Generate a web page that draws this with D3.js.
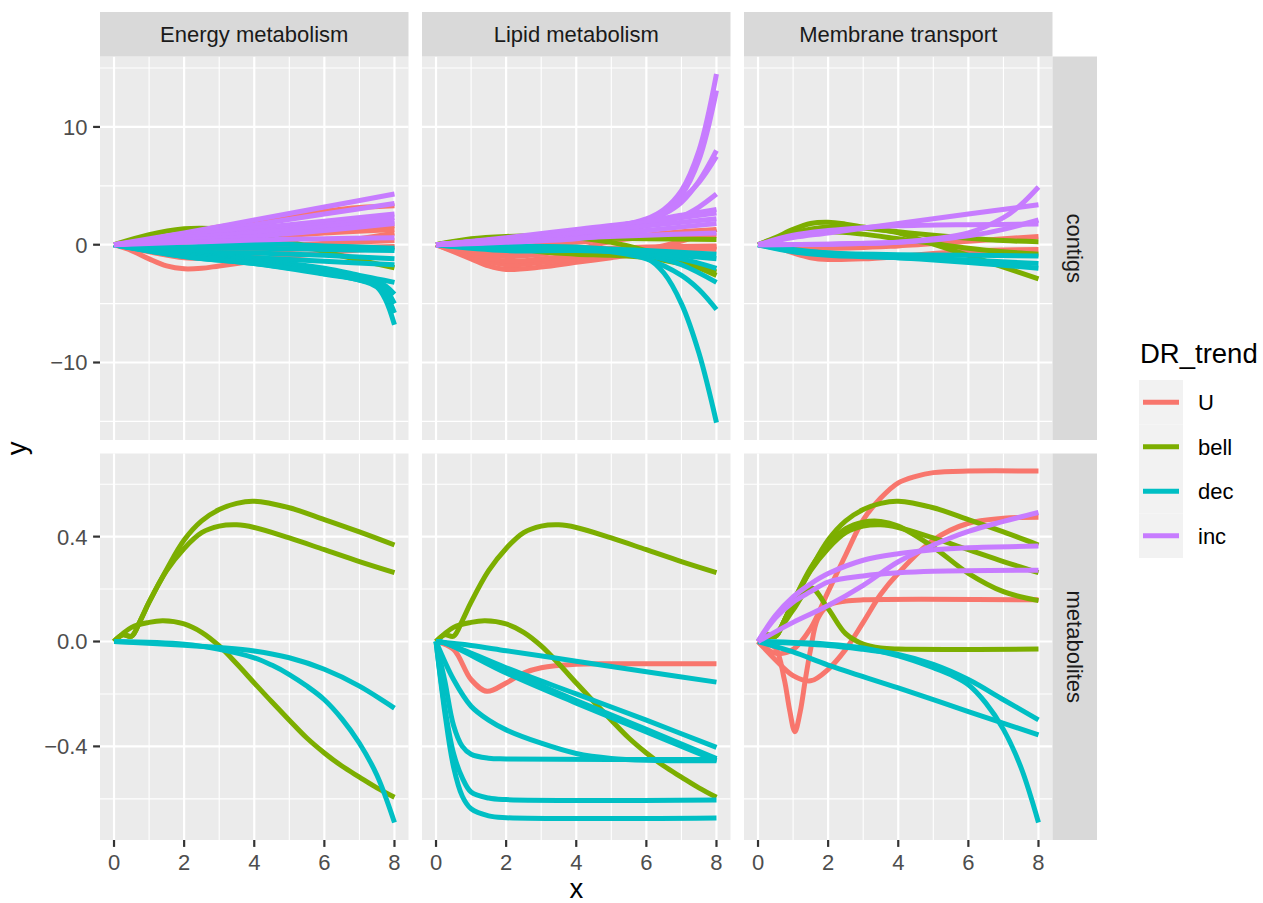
<!DOCTYPE html>
<html>
<head>
<meta charset="utf-8">
<script src="https://cdn.jsdelivr.net/npm/d3@7"></script>
<style>
  body { margin: 0; background: #fff; }
  svg { display: block; font-family: "Liberation Sans", Arial, Helvetica, sans-serif; }
</style>
</head>
<body>
<svg id="chart" width="1263" height="903"></svg>
<script>
// ======================
// Dades
// ======================
const pathways = ["Energy metabolism", "Lipid metabolism", "Membrane transport"];
const dataTypes = ["contigs", "metabolites"];
const trends = ["U", "bell", "dec", "inc"];
const trendColors = ["#F8766D", "#7CAE00", "#00BFC4", "#C77CFF"];
const xTicks = [0, 2, 4, 6, 8];
const yTicksContigs = [-10, 0, 10];
const yTicksMetabolites = [-0.4, 0, 0.4];

// each curve: [x, y] points
const energyContigs = [
  { trend: "U", pts: [[0,0],[0.5,-0.5],[1,-1.2],[1.5,-1.8],[2,-2.05],[2.5,-2.0],[3,-1.8],[4,-1.4],[5,-1.0],[6,-0.7],[7,-0.45],[8,-0.2]] },
  { trend: "U", pts: [[0,0],[1,-0.6],[2,-1.1],[3,-1.1],[4,-0.8],[5,-0.4],[6,0.1],[7,0.5],[8,1.0]] },
  { trend: "U", pts: [[0,0],[1,0.4],[2,1.0],[3,1.5],[4,2.0],[5,2.45],[6,2.85],[7,3.15],[8,3.3]] },
  { trend: "U", pts: [[0,0],[2,0.3],[4,0.7],[6,1.1],[8,1.6]] },
  { trend: "U", pts: [[0,0],[2,0.2],[4,0.6],[6,1.0],[8,1.3]] },
  { trend: "U", pts: [[0,0],[2,-0.3],[4,-0.2],[6,0.1],[8,0.35]] },
  { trend: "U", pts: [[0,0],[2,-0.6],[4,-0.5],[6,-0.3],[8,-0.15]] },
  { trend: "bell", pts: [[0,0],[1,0.85],[2,1.35],[2.5,1.4],[3,1.35],[4,0.95],[5,0.3],[6,-0.6],[7,-1.3],[8,-1.95]] },
  { trend: "dec", pts: [[0,0],[2,-0.3],[4,-0.3],[6,-0.4],[8,-0.5]] },
  { trend: "dec", pts: [[0,0],[2,-0.6],[4,-0.7],[6,-0.9],[8,-1.2]] },
  { trend: "dec", pts: [[0,0],[2,-0.8],[4,-1.1],[6,-1.4],[8,-1.7]] },
  { trend: "dec", pts: [[0,0],[2,-0.2],[4,0.1],[6,-0.1],[8,-0.3]] },
  { trend: "dec", pts: [[0,0],[2,-0.8],[4,-1.3],[6,-2.0],[7,-2.6],[7.5,-2.9],[8,-3.2]] },
  { trend: "dec", pts: [[0,0],[2,-0.9],[4,-1.4],[6,-2.2],[7,-2.8],[7.5,-3.1],[7.75,-3.5],[8,-4.2]] },
  { trend: "dec", pts: [[0,0],[2,-0.9],[4,-1.5],[6,-2.3],[7,-2.9],[7.5,-3.2],[7.75,-3.8],[8,-5.0]] },
  { trend: "dec", pts: [[0,0],[2,-1.0],[4,-1.6],[6,-2.4],[7,-3.0],[7.5,-3.4],[7.75,-4.2],[8,-5.8]] },
  { trend: "dec", pts: [[0,0],[2,-1.0],[4,-1.6],[6,-2.5],[7,-3.0],[7.5,-3.6],[7.75,-4.7],[8,-6.8]] },
  { trend: "inc", pts: [[0,0],[2,1.0],[4,2.1],[6,3.2],[8,4.3]] },
  { trend: "inc", pts: [[0,0],[2,0.8],[4,1.7],[6,2.6],[8,3.5]] },
  { trend: "inc", pts: [[0,0],[2,0.7],[4,1.4],[6,2.0],[8,2.6]] },
  { trend: "inc", pts: [[0,0],[2,0.5],[4,1.1],[6,1.7],[8,2.3]] },
  { trend: "inc", pts: [[0,0],[2,0.6],[4,1.0],[6,1.5],[8,2.0]] },
  { trend: "inc", pts: [[0,0],[2,0.4],[4,0.7],[6,1.2],[8,1.8]] },
  { trend: "inc", pts: [[0,0],[2,0.2],[4,0.4],[6,0.5],[8,0.6]] }
];

const lipidContigs = [
  { trend: "U", pts: [[0,0],[1,-1.2],[1.5,-1.8],[2,-2.1],[3,-1.9],[4,-1.5],[5,-1.1],[6,-0.7],[7,-0.4],[8,-0.2]] },
  { trend: "U", pts: [[0,0],[1,-1.0],[2,-1.7],[3,-1.5],[4,-1.2],[5,-0.8],[6,-0.4],[7,0.3],[8,1.3]] },
  { trend: "U", pts: [[0,0],[1,-0.8],[2,-1.4],[3,-1.2],[4,-0.9],[5,-0.6],[6,-0.3],[7,-0.3],[8,-0.4]] },
  { trend: "U", pts: [[0,0],[1,-0.6],[2,-1.0],[3,-0.8],[4,-0.4],[5,0.3],[6,0.8],[7,1.1],[8,1.3]] },
  { trend: "U", pts: [[0,0],[1,-0.4],[2,-0.6],[4,-0.4],[6,-0.2],[8,-0.1]] },
  { trend: "U", pts: [[0,0],[2,-0.2],[4,0.2],[6,0.6],[8,0.8]] },
  { trend: "bell", pts: [[0,0],[1,0.5],[2,0.7],[3,0.75],[4,0.6],[5,0.2],[6,-0.5],[7,-1.4],[8,-2.6]] },
  { trend: "bell", pts: [[0,0],[1,0.4],[2,0.6],[4,0.6],[6,0.5],[8,0.45]] },
  { trend: "bell", pts: [[0,0],[1,0.2],[2,-0.1],[3,-0.6],[4,-0.8],[5,-0.9],[6,-1.1],[7,-1.6],[8,-2.3]] },
  { trend: "dec", pts: [[0,0],[2,-0.1],[4,-0.2],[5,-0.45],[6,-1.1],[6.5,-2.4],[7,-5.0],[7.5,-9.2],[8,-15.1]] },
  { trend: "dec", pts: [[0,0],[2,-0.1],[4,-0.3],[5,-0.6],[6,-1.2],[7,-2.6],[7.5,-3.8],[8,-5.5]] },
  { trend: "dec", pts: [[0,0],[2,-0.2],[4,-0.3],[6,-0.9],[7,-1.7],[8,-3.2]] },
  { trend: "dec", pts: [[0,0],[2,-0.3],[4,-0.4],[6,-0.8],[7,-1.2],[8,-2.0]] },
  { trend: "dec", pts: [[0,0],[2,-0.5],[4,-0.5],[6,-0.7],[8,-1.2]] },
  { trend: "dec", pts: [[0,0],[2,-0.4],[4,-0.3],[6,-0.5],[8,-0.8]] },
  { trend: "inc", pts: [[0,0],[2,0.5],[4,1.1],[5,1.5],[6,2.2],[6.5,3.0],[7,4.6],[7.5,8.0],[8,14.5]] },
  { trend: "inc", pts: [[0,0],[2,0.5],[4,1.0],[5,1.4],[6,2.0],[6.5,2.8],[7,4.2],[7.5,7.2],[8,13.1]] },
  { trend: "inc", pts: [[0,0],[2,0.4],[4,1.0],[5,1.4],[6,2.0],[6.5,2.6],[7,3.6],[7.5,5.4],[8,8.0]] },
  { trend: "inc", pts: [[0,0],[2,0.5],[4,1.1],[5,1.5],[6,2.1],[6.5,2.7],[7,3.8],[7.5,5.3],[8,7.5]] },
  { trend: "inc", pts: [[0,0],[2,0.3],[4,0.8],[6,1.6],[7,2.4],[7.5,3.2],[8,4.3]] },
  { trend: "inc", pts: [[0,0],[2,0.6],[4,1.3],[6,2.0],[7,2.5],[8,3.0]] },
  { trend: "inc", pts: [[0,0],[2,0.5],[4,1.2],[6,1.9],[8,2.7]] },
  { trend: "inc", pts: [[0,0],[2,0.4],[4,1.0],[6,1.6],[8,2.2]] },
  { trend: "inc", pts: [[0,0],[2,0.3],[4,0.6],[6,0.8],[8,1.0]] },
  { trend: "inc", pts: [[0,0],[2,0.2],[4,0.5],[6,1.2],[8,1.8]] }
];

const membraneContigs = [
  { trend: "U", pts: [[0,0],[0.5,-0.2],[1,-0.7],[1.5,-1.1],[2,-1.25],[3,-1.2],[4,-1.0],[5,-0.75],[6,-0.55],[7,-0.45],[8,-0.4]] },
  { trend: "U", pts: [[0,0],[2,-0.3],[4,-0.1],[6,0.3],[8,0.7]] },
  { trend: "bell", pts: [[0,0],[0.5,0.6],[1,1.3],[1.5,1.8],[2,1.9],[2.5,1.75],[3,1.5],[4,1.0],[5,0.05],[6,-0.9],[7,-1.9],[8,-2.9]] },
  { trend: "bell", pts: [[0,0],[1,1.0],[2,1.5],[3,1.4],[4,1.1],[5,0.8],[6,0.55],[7,0.35],[8,0.25]] },
  { trend: "bell", pts: [[0,0],[1,0.8],[2,1.1],[3,0.9],[4,0.5],[5,0.1],[6,-0.3],[7,-0.6],[8,-0.8]] },
  { trend: "dec", pts: [[0,0],[1,-0.5],[2,-0.7],[4,-0.85],[6,-0.9],[8,-0.95]] },
  { trend: "dec", pts: [[0,0],[1,-0.6],[2,-0.9],[4,-1.1],[6,-1.3],[8,-1.6]] },
  { trend: "dec", pts: [[0,0],[1,-0.4],[2,-0.7],[4,-1.1],[6,-1.5],[8,-2.0]] },
  { trend: "inc", pts: [[0,0],[2,0.05],[4,0.2],[5,0.5],[6,1.0],[7,2.3],[7.5,3.4],[8,4.9]] },
  { trend: "inc", pts: [[0,0],[1,0.6],[2,1.0],[4,1.8],[6,2.6],[8,3.4]] },
  { trend: "inc", pts: [[0,0],[1,0.8],[2,1.2],[3,1.45],[4,1.6],[6,1.7],[8,1.75]] },
  { trend: "inc", pts: [[0,0],[2,0.05],[4,0.2],[5,0.4],[6,0.75],[7,1.3],[8,2.1]] }
];

const energyMetabolites = [
  { trend: "bell", pts: [[0,0],[0.25,0.025],[0.5,0.02],[0.75,0.08],[1,0.15],[1.5,0.275],[2,0.387],[2.5,0.46],[3,0.503],[3.5,0.527],[4,0.535],[5,0.51],[6,0.465],[7,0.418],[8,0.368]] },
  { trend: "bell", pts: [[0,0],[0.25,0.025],[0.5,0.02],[0.75,0.08],[1,0.15],[1.5,0.27],[2,0.355],[2.5,0.415],[3,0.44],[3.5,0.445],[4,0.435],[5,0.395],[6,0.35],[7,0.305],[8,0.263]] },
  { trend: "bell", pts: [[0,0],[0.5,0.054],[1,0.073],[1.4,0.079],[2,0.067],[2.5,0.035],[3,-0.017],[3.5,-0.085],[4,-0.158],[4.5,-0.23],[5,-0.3],[5.5,-0.368],[6,-0.425],[6.5,-0.475],[7,-0.517],[7.5,-0.558],[8,-0.594]] },
  { trend: "dec", pts: [[0,0],[2,-0.014],[3,-0.023],[4,-0.036],[5,-0.062],[6,-0.106],[7,-0.17],[8,-0.254]] },
  { trend: "dec", pts: [[0,0],[2,-0.01],[3,-0.03],[4,-0.062],[4.5,-0.09],[5,-0.126],[5.5,-0.17],[6,-0.222],[6.5,-0.295],[7,-0.388],[7.5,-0.51],[8,-0.69]] }
];

const lipidMetabolites = [
  { trend: "U", pts: [[0,0],[0.5,-0.03],[1,-0.145],[1.45,-0.19],[2,-0.158],[2.5,-0.12],[3,-0.1],[4,-0.087],[5,-0.085],[8,-0.085]] },
  { trend: "bell", pts: [[0,0],[0.25,0.025],[0.5,0.02],[0.75,0.08],[1,0.15],[1.5,0.27],[2,0.355],[2.5,0.415],[3,0.44],[3.5,0.445],[4,0.435],[5,0.395],[6,0.35],[7,0.305],[8,0.263]] },
  { trend: "bell", pts: [[0,0],[0.5,0.054],[1,0.073],[1.4,0.079],[2,0.067],[2.5,0.035],[3,-0.017],[3.5,-0.085],[4,-0.158],[4.5,-0.23],[5,-0.3],[5.5,-0.368],[6,-0.425],[6.5,-0.475],[7,-0.517],[7.5,-0.558],[8,-0.594]] },
  { trend: "dec", pts: [[0,0],[1,-0.015],[2,-0.035],[4,-0.075],[6,-0.115],[8,-0.155]] },
  { trend: "dec", pts: [[0,0],[0.25,-0.005],[2,-0.1],[4,-0.2],[6,-0.3],[8,-0.404]] },
  { trend: "dec", pts: [[0,0],[0.25,-0.005],[2,-0.11],[4,-0.225],[6,-0.335],[8,-0.446]] },
  { trend: "dec", pts: [[0,0],[0.25,-0.005],[2,-0.12],[4,-0.235],[6,-0.345],[8,-0.455]] },
  { trend: "dec", pts: [[0,0],[0.5,-0.145],[1,-0.247],[1.5,-0.3],[2,-0.337],[3,-0.388],[4,-0.427],[5,-0.446],[6,-0.453],[8,-0.455]] },
  { trend: "dec", pts: [[0,0],[0.25,-0.15],[0.5,-0.32],[0.75,-0.4],[1,-0.43],[1.5,-0.445],[2,-0.448],[8,-0.45]] },
  { trend: "dec", pts: [[0,0],[0.25,-0.25],[0.5,-0.427],[0.75,-0.52],[1,-0.574],[1.5,-0.597],[2,-0.603],[8,-0.604]] },
  { trend: "dec", pts: [[0,0],[0.25,-0.27],[0.5,-0.478],[0.75,-0.59],[1,-0.638],[1.5,-0.665],[2,-0.672],[8,-0.673]] }
];

const membraneMetabolites = [
  { trend: "U", pts: [[0,0],[0.5,-0.045],[1,-0.03],[1.5,0.05],[2,0.19],[2.5,0.33],[3,0.464],[3.5,0.547],[4,0.605],[4.5,0.63],[5,0.644],[6,0.65],[8,0.65]] },
  { trend: "U", pts: [[0,0],[0.5,-0.07],[1,-0.13],[1.5,-0.15],[2,-0.106],[2.5,-0.03],[3,0.073],[3.5,0.18],[4,0.26],[5,0.387],[6,0.451],[7,0.47],[8,0.474]] },
  { trend: "U", pts: [[0,0],[0.25,-0.01],[0.5,-0.025],[0.75,-0.145],[0.9,-0.26],[1.05,-0.344],[1.2,-0.27],[1.35,-0.145],[1.5,-0.03],[1.7,0.086],[2,0.137],[2.5,0.154],[3,0.159],[8,0.159]] },
  { trend: "bell", pts: [[0,0],[0.25,0.025],[0.5,0.02],[0.75,0.08],[1,0.15],[1.5,0.275],[2,0.387],[2.5,0.46],[3,0.503],[3.5,0.527],[4,0.535],[5,0.51],[6,0.465],[7,0.418],[8,0.368]] },
  { trend: "bell", pts: [[0,0],[0.25,0.025],[0.5,0.02],[0.75,0.08],[1,0.15],[1.5,0.27],[2,0.355],[2.5,0.415],[3,0.44],[3.5,0.445],[4,0.435],[5,0.395],[6,0.35],[7,0.305],[8,0.263]] },
  { trend: "bell", pts: [[0,0],[0.25,0.025],[0.5,0.02],[0.75,0.08],[1,0.15],[1.5,0.28],[2,0.37],[2.5,0.43],[3,0.455],[3.5,0.458],[4,0.44],[5,0.36],[6,0.26],[7,0.19],[8,0.156]] },
  { trend: "bell", pts: [[0,0],[0.5,0.03],[1,0.12],[1.5,0.205],[2,0.125],[2.5,0.03],[3,-0.01],[3.5,-0.025],[4,-0.029],[8,-0.029]] },
  { trend: "dec", pts: [[0,0],[2,-0.015],[3,-0.03],[4,-0.049],[5,-0.087],[6,-0.145],[7,-0.222],[8,-0.299]] },
  { trend: "dec", pts: [[0,0],[1,-0.04],[2,-0.09],[4,-0.177],[6,-0.267],[8,-0.356]] },
  { trend: "dec", pts: [[0,0],[2,-0.01],[3,-0.025],[4,-0.055],[5,-0.1],[5.5,-0.127],[6,-0.165],[6.5,-0.235],[7,-0.335],[7.5,-0.48],[8,-0.69]] },
  { trend: "inc", pts: [[0,0],[1,0.073],[2,0.137],[3,0.214],[4,0.304],[5,0.368],[6,0.42],[7,0.458],[8,0.492]] },
  { trend: "inc", pts: [[0,0],[0.5,0.1],[1,0.17],[1.5,0.22],[2,0.259],[3,0.31],[4,0.335],[5,0.35],[6,0.358],[8,0.364]] },
  { trend: "inc", pts: [[0,0],[0.5,0.09],[1,0.15],[1.5,0.19],[2,0.227],[3,0.25],[4,0.262],[5,0.268],[8,0.272]] }
];

// panel grid (row = data type, col = pathway)
const panelData = [
  [energyContigs, lipidContigs, membraneContigs],
  [energyMetabolites, lipidMetabolites, membraneMetabolites]
];
const yTicksByRow = [yTicksContigs, yTicksMetabolites];
const yFormatByRow = [d3.format("d"), d3.format(".1f")];

// ======================
// Layout
// ======================
const svg = d3.select("#chart");
const colX = [[100, 408.5], [422, 730.5], [744, 1052.5]];
const rowY = [[56.5, 440], [453.5, 840]];
const stripTop = [12, 56.5];
const stripRight = [1052.5, 1097];
const fontStrip = "22px";
const fontTick = "22px";
const fontTitle = "27.5px";
const curveWidth = 5;

const color = d3.scaleOrdinal().domain(trends).range(trendColors);

// ggplot-style 5% expansion
function expand(ext) {
  const pad = (ext[1] - ext[0]) * 0.05;
  return [ext[0] - pad, ext[1] + pad];
}

function minorTicks(major, domain) {
  const step = major[1] - major[0];
  const out = [];
  for (let v = major[0] - step / 2; v <= domain[1]; v += step) {
    if (v >= domain[0]) out.push(v);
  }
  return out;
}

const xDomain = expand([0, 8]);
const xMinor = minorTicks(xTicks, xDomain);

const yScales = panelData.map((row, r) => {
  const all = row.flat().flatMap(s => s.pts.map(p => p[1]));
  return d3.scaleLinear()
    .domain(expand(d3.extent(all)))
    .range([rowY[r][1], rowY[r][0]]);
});

// ======================
// Panels
// ======================
panelData.forEach((row, r) => {
  const y = yScales[r];
  const yMinor = minorTicks(yTicksByRow[r], y.domain());

  row.forEach((series, c) => {
    const x = d3.scaleLinear().domain(xDomain).range(colX[c]);
    const g = svg.append("g");

    g.append("rect")
      .attr("x", colX[c][0])
      .attr("y", rowY[r][0])
      .attr("width", colX[c][1] - colX[c][0])
      .attr("height", rowY[r][1] - rowY[r][0])
      .attr("fill", "#EBEBEB");

    // minor grid
    g.selectAll(".xminor").data(xMinor).enter().append("line")
      .attr("x1", d => x(d)).attr("x2", d => x(d))
      .attr("y1", rowY[r][0]).attr("y2", rowY[r][1])
      .attr("stroke", "white").attr("stroke-width", 1.1);
    g.selectAll(".yminor").data(yMinor).enter().append("line")
      .attr("x1", colX[c][0]).attr("x2", colX[c][1])
      .attr("y1", d => y(d)).attr("y2", d => y(d))
      .attr("stroke", "white").attr("stroke-width", 1.1);

    // major grid
    g.selectAll(".xmajor").data(xTicks).enter().append("line")
      .attr("x1", d => x(d)).attr("x2", d => x(d))
      .attr("y1", rowY[r][0]).attr("y2", rowY[r][1])
      .attr("stroke", "white").attr("stroke-width", 2.2);
    g.selectAll(".ymajor").data(yTicksByRow[r]).enter().append("line")
      .attr("x1", colX[c][0]).attr("x2", colX[c][1])
      .attr("y1", d => y(d)).attr("y2", d => y(d))
      .attr("stroke", "white").attr("stroke-width", 2.2);

    const line = d3.line()
      .x(d => x(d[0]))
      .y(d => y(d[1]))
      .curve(d3.curveCatmullRom.alpha(0.5));

    const ordered = trends.flatMap(t => series.filter(s => s.trend === t));
    g.selectAll(".curve").data(ordered).enter().append("path")
      .attr("d", d => line(d.pts))
      .attr("fill", "none")
      .attr("stroke", d => color(d.trend))
      .attr("stroke-width", curveWidth)
      .attr("stroke-linejoin", "round");

    // x axis on bottom row
    if (r === dataTypes.length - 1) {
      g.selectAll(".xtick").data(xTicks).enter().append("line")
        .attr("x1", d => x(d)).attr("x2", d => x(d))
        .attr("y1", rowY[r][1]).attr("y2", rowY[r][1] + 6.9)
        .attr("stroke", "#333333").attr("stroke-width", 2.2);
      g.selectAll(".xlab").data(xTicks).enter().append("text")
        .attr("x", d => x(d))
        .attr("y", rowY[r][1] + 30)
        .attr("text-anchor", "middle")
        .style("font-size", fontTick)
        .style("fill", "#4D4D4D")
        .text(d => d);
    }

    // y axis on first column
    if (c === 0) {
      g.selectAll(".ytick").data(yTicksByRow[r]).enter().append("line")
        .attr("x1", colX[c][0] - 6.9).attr("x2", colX[c][0])
        .attr("y1", d => y(d)).attr("y2", d => y(d))
        .attr("stroke", "#333333").attr("stroke-width", 2.2);
      g.selectAll(".ylab").data(yTicksByRow[r]).enter().append("text")
        .attr("x", colX[c][0] - 12.4)
        .attr("y", d => y(d))
        .attr("dy", "0.36em")
        .attr("text-anchor", "end")
        .style("font-size", fontTick)
        .style("fill", "#4D4D4D")
        .text(d => yFormatByRow[r](d));
    }
  });
});

// ======================
// Strips
// ======================
pathways.forEach((p, c) => {
  svg.append("rect")
    .attr("x", colX[c][0]).attr("y", stripTop[0])
    .attr("width", colX[c][1] - colX[c][0])
    .attr("height", stripTop[1] - stripTop[0])
    .attr("fill", "#D9D9D9");
  svg.append("text")
    .attr("x", (colX[c][0] + colX[c][1]) / 2)
    .attr("y", (stripTop[0] + stripTop[1]) / 2)
    .attr("dy", "0.36em")
    .attr("text-anchor", "middle")
    .style("font-size", fontStrip)
    .style("fill", "#1A1A1A")
    .text(p);
});

dataTypes.forEach((t, r) => {
  const cy = (rowY[r][0] + rowY[r][1]) / 2;
  const cx = (stripRight[0] + stripRight[1]) / 2;
  svg.append("rect")
    .attr("x", stripRight[0]).attr("y", rowY[r][0])
    .attr("width", stripRight[1] - stripRight[0])
    .attr("height", rowY[r][1] - rowY[r][0])
    .attr("fill", "#D9D9D9");
  svg.append("text")
    .attr("transform", `translate(${cx},${cy}) rotate(90)`)
    .attr("dy", "0.36em")
    .attr("text-anchor", "middle")
    .style("font-size", fontStrip)
    .style("fill", "#1A1A1A")
    .text(t);
});

// ======================
// Axis titles
// ======================
svg.append("text")
  .attr("x", (colX[0][0] + colX[2][1]) / 2)
  .attr("y", 898)
  .attr("text-anchor", "middle")
  .style("font-size", fontTitle)
  .style("fill", "black")
  .text("x");

svg.append("text")
  .attr("transform", `translate(25.5,${(rowY[0][0] + rowY[1][1]) / 2}) rotate(-90)`)
  .attr("text-anchor", "middle")
  .style("font-size", fontTitle)
  .style("fill", "black")
  .text("y");

// ======================
// Llegenda
// ======================
const legend = svg.append("g").attr("transform", "translate(1139,380)");
const keySize = 44.5;

legend.append("text")
  .attr("x", 1)
  .attr("y", -17)
  .style("font-size", fontTitle)
  .style("fill", "black")
  .text("DR_trend");

const items = legend.selectAll(".item").data(trends).enter().append("g")
  .attr("transform", (d, i) => `translate(0,${i * keySize})`);

items.append("rect")
  .attr("width", 44)
  .attr("height", keySize)
  .attr("fill", "#F2F2F2");

items.append("line")
  .attr("x1", 4).attr("x2", 40)
  .attr("y1", keySize / 2).attr("y2", keySize / 2)
  .attr("stroke", d => color(d))
  .attr("stroke-width", curveWidth);

items.append("text")
  .attr("x", 59)
  .attr("y", keySize / 2)
  .attr("dy", "0.36em")
  .style("font-size", fontTick)
  .style("fill", "black")
  .text(d => d);
</script>
</body>
</html>
